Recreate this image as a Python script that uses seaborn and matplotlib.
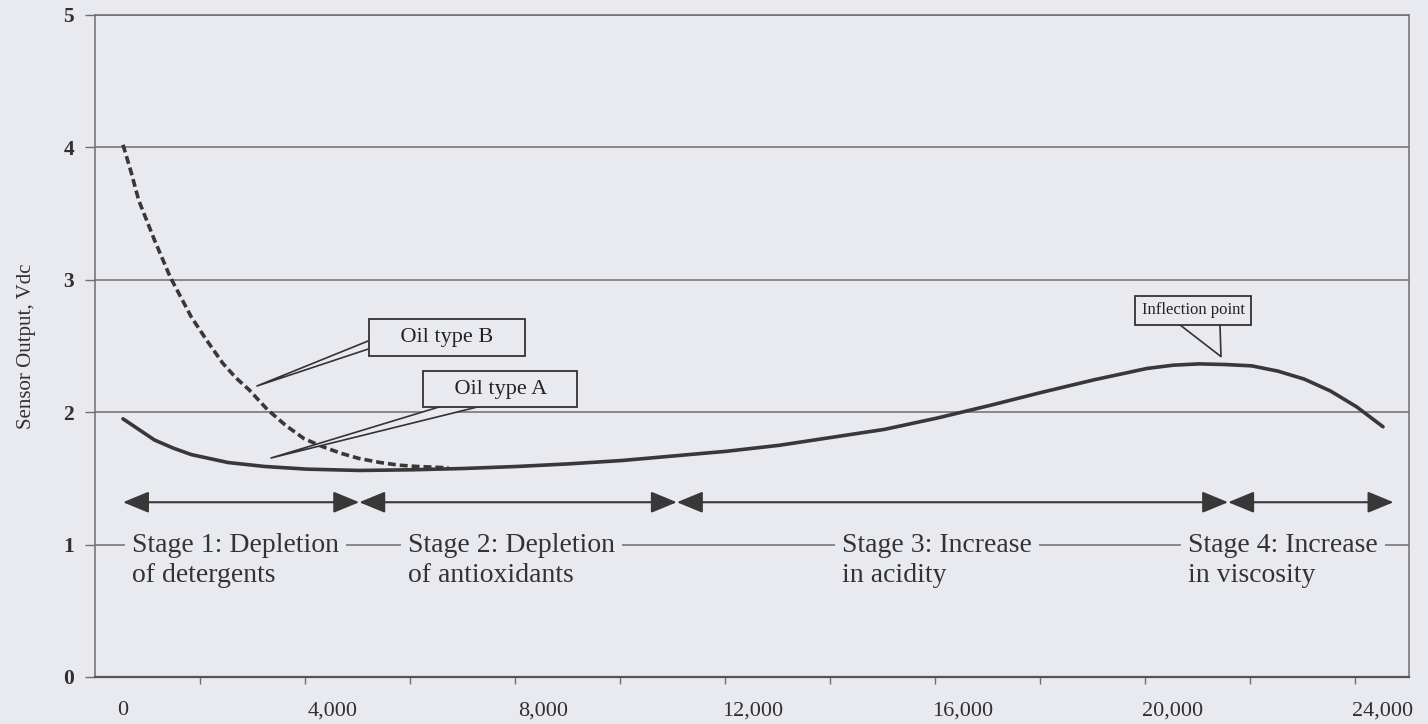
import numpy as np
import pandas as pd
import matplotlib
matplotlib.use("Agg")
import matplotlib.pyplot as plt
from matplotlib.ticker import FixedLocator
import seaborn as sns

# values
oil_a_x = [0, 300, 600, 950, 1300, 1650, 2000, 2700, 3500, 4500, 5500, 6500, 7500, 8500, 9500,
           10500, 11500, 12500, 13500, 14500, 15500, 16500, 17500, 18500, 19500,
           20000, 20500, 21000, 21500, 22000, 22500, 23000, 23500, 24000]
oil_a_y = [1.95, 1.87, 1.79, 1.73, 1.68, 1.65, 1.62, 1.59, 1.57, 1.56, 1.565, 1.575, 1.59, 1.61, 1.635,
           1.67, 1.705, 1.75, 1.81, 1.87, 1.955, 2.05, 2.15, 2.245, 2.33,
           2.355, 2.365, 2.36, 2.35, 2.31, 2.25, 2.16, 2.04, 1.89]

oil_b_x = [0, 150, 300, 600, 900, 1300, 1600, 1900, 2150, 2400, 2750, 3100, 3450,
           3800, 4150, 4500, 4900, 5250, 5600, 6200]
oil_b_y = [4.02, 3.82, 3.60, 3.30, 3.02, 2.72, 2.54, 2.37, 2.26, 2.17, 2.02, 1.90, 1.80,
           1.74, 1.69, 1.65, 1.62, 1.60, 1.59, 1.58]

x_ticks = [0, 4000, 8000, 12000, 16000, 20000, 24000]
x_tick_labels = ["0", "4,000", "8,000", "12,000", "16,000", "20,000", "24,000"]
y_ticks = [0, 1, 2, 3, 4, 5]

stage_bounds = [0, 4500, 10550, 21050, 24200]
stage_labels = ["Stage 1: Depletion\nof detergents",
                "Stage 2: Depletion\nof antioxidants",
                "Stage 3: Increase\nin acidity",
                "Stage 4: Increase\nin viscosity"]
stage_label_x = [171, 5430, 13700, 20290]

# callouts: text, box centre, wedge root (inside the box), pointed-at spot, root width, font size
callouts = [
    ("    Oil type B    ", (6171, 2.564), (5657, 2.651), (2552, 2.198), 0.8, 16),
    ("    Oil type A    ", (7181, 2.175), (7181, 2.13), (2819, 1.654), 0.9, 16),
    ("Inflection point", (20381, 2.77), (20480, 2.757), (20914, 2.42), 3.4, 12),
]

paper = "#e9eaf0"
ink = "#383838"
grey = "#6e6e6e"

sns.set_theme(style="white")
plt.rcParams["font.family"] = ["Liberation Serif", "DejaVu Serif"]

fig = plt.figure(figsize=(14.28, 7.24), dpi=100, facecolor=paper)
ax = fig.add_axes([95 / 1428, 47 / 724, 1314 / 1428, 662 / 724])
ax.set_facecolor(paper)

df_a = pd.DataFrame({"x": oil_a_x, "y": oil_a_y})
df_b = pd.DataFrame({"x": oil_b_x, "y": oil_b_y})
sns.lineplot(data=df_a, x="x", y="y", ax=ax, color=ink, linewidth=2.6, zorder=4)
sns.lineplot(data=df_b, x="x", y="y", ax=ax, color=ink, linewidth=2.6,
             linestyle=(0, (2.2, 1.1)), zorder=4)

ax.set_xlim(-533, 24495)
ax.set_ylim(0, 5)

# labels sit on the data scale, tick marks run every 2,000 from the left edge
ax.set_xticks(x_ticks)
ax.set_xticklabels(x_tick_labels, fontsize=16, color="#303030")
ax.xaxis.set_minor_locator(FixedLocator([-533 + 2000 * k for k in range(1, 13)]))
ax.tick_params(axis="x", which="major", length=0, pad=17.5)
ax.tick_params(axis="x", which="minor", bottom=True, length=5, width=1, color=grey, direction="out")

ax.set_yticks(y_ticks)
ax.set_yticklabels([str(v) for v in y_ticks], fontsize=15.5, fontweight="bold", color="#303030")
ax.tick_params(axis="y", left=True, length=7, width=1, color=grey, direction="out", pad=8)

ax.yaxis.grid(True, color=grey, linewidth=1.1)
ax.xaxis.grid(False)
for s in ax.spines.values():
    s.set_color(grey)
    s.set_linewidth(1.1)
ax.spines["bottom"].set_linewidth(1.6)
ax.spines["bottom"].set_color("#555555")

ax.set_xlabel("")
ax.set_ylabel("Sensor Output, Vdc", fontsize=15, color="#303030", labelpad=20)

# stage arrows
for x0, x1 in zip(stage_bounds[:-1], stage_bounds[1:]):
    ax.annotate("", xy=(x1, 1.32), xytext=(x0, 1.32),
                arrowprops=dict(arrowstyle="<|-|>,head_length=0.8,head_width=0.33",
                                mutation_scale=20, color=ink, lw=1.5,
                                shrinkA=0, shrinkB=0), zorder=5)

for lx, lab in zip(stage_label_x, stage_labels):
    ax.text(lx, 1.085, lab, fontsize=20, color="#333333", ha="left", va="top",
            linespacing=1.22, zorder=6,
            bbox=dict(boxstyle="square,pad=0.25", fc=paper, ec="none"))

# callout boxes with wedge pointers; the box is drawn over the root of the wedge
for txt, centre, root, tip, tw, fs in callouts:
    ax.annotate("", xy=tip, xytext=root, zorder=6.5,
                arrowprops=dict(arrowstyle=f"wedge,tail_width={tw},shrink_factor=0.5",
                                mutation_scale=10, fc=paper, ec="#333333", lw=1.2,
                                shrinkA=0, shrinkB=0))
    ax.text(centre[0], centre[1], txt, fontsize=fs, color="#222222",
            ha="center", va="center", zorder=7,
            bbox=dict(boxstyle="square,pad=0.4", fc=paper, ec="#333333", lw=1.3))

fig.savefig("out.png", dpi=100, facecolor=paper)
